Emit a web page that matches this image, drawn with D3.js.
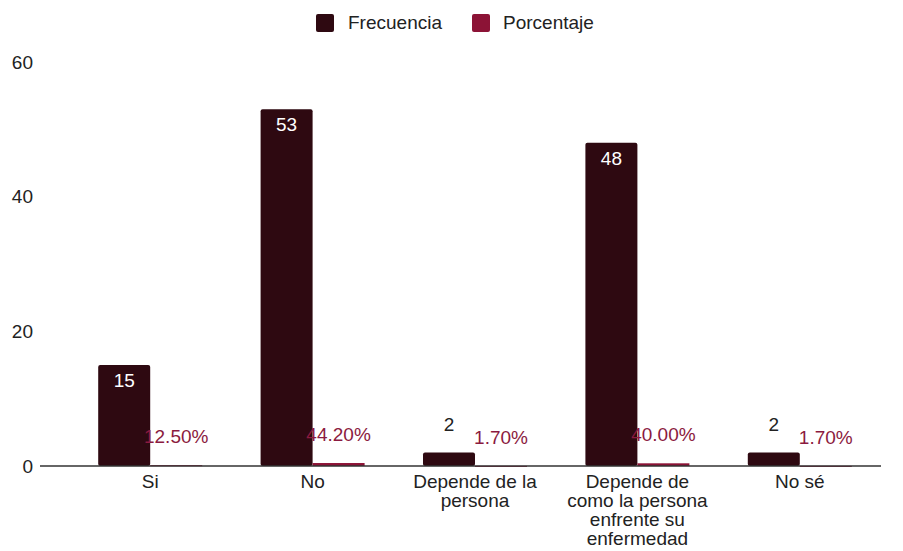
<!DOCTYPE html>
<html><head><meta charset="utf-8">
<script src="https://cdn.jsdelivr.net/npm/d3@7/dist/d3.min.js"></script>
<style>body{margin:0;background:#fff}svg{display:block;font-family:"Liberation Sans",Arial,sans-serif}</style>
</head><body><svg id="c" width="903" height="551"></svg>
<script>
const categories = ["Si","No","Depende de la persona","Depende de como la persona enfrente su enfermedad","No sé"];
const series = ["Frecuencia","Porcentaje"];
const frecuencia = [15,53,2,48,2];
const porcentaje = [0.125,0.442,0.017,0.40,0.017];
const porcentajeLabels = ["12.50%","44.20%","1.70%","40.00%","1.70%"];
const yTicks = [0,20,40,60];
const colors = {Frecuencia:"#2e0911", Porcentaje:"#8c1336"};
const pctTextColor = "#8b1a40";
const FS = 19;

const svg = d3.select("#c");
const x = d3.scaleBand().domain(categories).range([69,881]).paddingInner(0).paddingOuter(0);
const y = d3.scaleLinear().domain([0,60]).range([466,62]);
const barW = 52;

// y tick labels
svg.append("g").selectAll("text").data(yTicks).join("text")
  .attr("x",33).attr("y",d=>y(d)).attr("dy","0.35em").attr("text-anchor","end")
  .attr("font-size",FS).attr("fill","#222").text(d=>d);

const cx = c => x(c)+x.bandwidth()/2;

// frecuencia bars
svg.append("g").selectAll("rect").data(categories).join("rect")
  .attr("x",c=>cx(c)-barW).attr("width",barW)
  .attr("y",(c,i)=>y(frecuencia[i])).attr("height",(c,i)=>y(0)-y(frecuencia[i]))
  .attr("rx",2).attr("fill",colors.Frecuencia);
// porcentaje bars
svg.append("g").selectAll("rect").data(categories).join("rect")
  .attr("x",c=>cx(c)).attr("width",barW)
  .attr("y",(c,i)=>y(porcentaje[i])).attr("height",(c,i)=>Math.max(1,y(0)-y(porcentaje[i])))
  .attr("fill",colors.Porcentaje);

// baseline
svg.append("line").attr("x1",40).attr("x2",881).attr("y1",y(0)).attr("y2",y(0))
  .attr("stroke","#333").attr("stroke-width",1.5);

// frecuencia labels
svg.append("g").selectAll("text").data(categories).join("text")
  .attr("x",c=>cx(c)-barW/2).attr("text-anchor","middle").attr("font-size",FS)
  .attr("y",(c,i)=> frecuencia[i]>5 ? y(frecuencia[i])+22 : y(frecuencia[i])-22)
  .attr("fill",(c,i)=> frecuencia[i]>5 ? "#fff" : "#222")
  .text((c,i)=>frecuencia[i]);
// porcentaje labels
svg.append("g").selectAll("text").data(categories).join("text")
  .attr("x",c=>cx(c)+barW/2).attr("text-anchor","middle").attr("font-size",FS)
  .attr("y",(c,i)=> y(porcentaje[i])-22).attr("fill",pctTextColor)
  .text((c,i)=>porcentajeLabels[i]);

// x labels with wrapping
const xl = svg.append("g").selectAll("text").data(categories).join("text")
  .attr("text-anchor","middle").attr("font-size",FS).attr("fill","#222");
xl.each(function(c){
  const t = d3.select(this);
  const words = c.split(" ");
  let lines=[], line=[];
  const tmp = t.append("tspan");
  words.forEach(w=>{
    line.push(w);
    tmp.text(line.join(" "));
    if(tmp.node().getComputedTextLength()>148 && line.length>1){
      line.pop(); lines.push(line.join(" ")); line=[w];
    }
  });
  lines.push(line.join(" "));
  tmp.remove();
  lines.forEach((l,i)=>t.append("tspan").attr("x",cx(c)).attr("y",488+i*19).text(l));
});

// legend
const lg = svg.append("g");
const legendPos = [{sx:316, tx:348},{sx:472, tx:503}];
series.forEach((s,i)=>{
  lg.append("rect").attr("x",legendPos[i].sx).attr("y",14).attr("width",18).attr("height",18)
    .attr("rx",2).attr("fill",colors[s]);
  lg.append("text").attr("x",legendPos[i].tx).attr("y",29).attr("font-size",FS).attr("fill","#222").text(s);
});
</script></body></html>
